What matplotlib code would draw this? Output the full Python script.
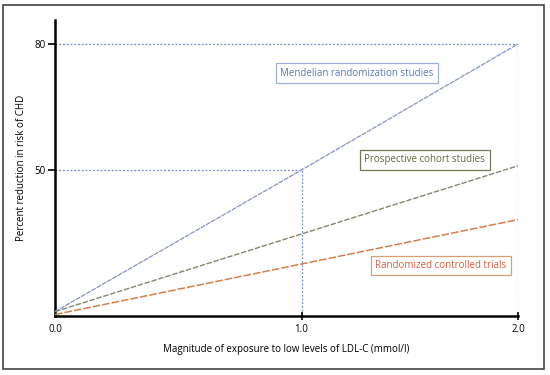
import matplotlib
matplotlib.use("Agg")
import matplotlib.pyplot as plt
import numpy as np
from matplotlib.patches import Rectangle

plt.rcParams["font.family"] = ["Open Sans", "DejaVu Sans"]

# exposure (mmol/l) and percent reduction in CHD risk (schematic figure)
exposure = [0.0, 1.0, 2.0]
mendelian = [1.5, 50, 80]
cohort_x = [0.0, 2.0]
cohort = [1.5, 51]
rct_x = [0.0, 2.0]
rct = [0.5, 33]

x_ticks = [0.0, 1.0, 2.0]
x_tick_labels = ["0.0", "1.0", "2.0"]
y_ticks = [50, 80]
y_tick_labels = ["50", "80"]

# the original figure is schematic: axes are not uniformly spaced
X_IN, X_OUT = [0.0, 1.0, 2.0], [0.0, 1.065, 2.0]
Y_IN, Y_OUT = [0.0, 50.0, 80.0], [0.0, 146.0, 272.0]


def piecewise(v, src, dst):
    v = np.asarray(v, dtype=float)
    out = np.interp(v, src, dst)
    hi = v > src[-1]
    slope = (dst[-1] - dst[-2]) / (src[-1] - src[-2])
    out = np.where(hi, dst[-1] + (v - src[-1]) * slope, out)
    lo = v < src[0]
    slope0 = (dst[1] - dst[0]) / (src[1] - src[0])
    out = np.where(lo, dst[0] + (v - src[0]) * slope0, out)
    return out


fig = plt.figure(figsize=(5.5, 3.75), dpi=100)
ax = fig.add_axes([55 / 550, 1 - 316 / 375, 463 / 550, 296 / 375])
ax.set_xscale("function", functions=(lambda v: piecewise(v, X_IN, X_OUT),
                                      lambda v: piecewise(v, X_OUT, X_IN)))
ax.set_yscale("function", functions=(lambda v: piecewise(v, Y_IN, Y_OUT),
                                      lambda v: piecewise(v, Y_OUT, Y_IN)))
ax.set_xlim(0, 2.0)
ax.set_ylim(0, 85.7)

guide = dict(color="#6f8fcc", lw=0.9, ls=(0, (1.5, 1.5)), zorder=1)
ax.plot([0, exposure[2], exposure[2]], [mendelian[2], mendelian[2], 0], **guide)
ax.plot([0, exposure[1], exposure[1]], [mendelian[1], mendelian[1], 0], **guide)

ax.plot(exposure, mendelian, color="#8592cc", lw=0.9, ls=(0, (4, 0.8)), zorder=3)
ax.plot(cohort_x, cohort, color="#7d8a6c", lw=1.0, ls=(0, (4, 1.2)), zorder=3)
ax.plot(rct_x, rct, color="#d4804c", lw=1.1, ls=(0, (5, 1.3)), zorder=3)

for s in ["top", "right"]:
    ax.spines[s].set_visible(False)
for s in ["left", "bottom"]:
    ax.spines[s].set_linewidth(1.8)
    ax.spines[s].set_color("black")

ax.set_xticks(x_ticks[1:])
ax.set_xticklabels(x_tick_labels[1:])
ax.set_yticks(y_ticks)
ax.set_yticklabels(y_tick_labels)
ax.tick_params(axis="x", direction="inout", length=6, width=1.2, labelsize=7, pad=3, colors="black")
ax.tick_params(axis="y", direction="out", length=5, width=1.2, labelsize=7, pad=2, colors="black")
ax.text(0, -0.028, x_tick_labels[0], transform=ax.get_xaxis_transform(),
        ha="center", va="top", fontsize=7)

ax.set_xlabel("Magnitude of exposure to low levels of LDL-C (mmol/l)", fontsize=7, labelpad=6)
ax.set_ylabel("Percent reduction in risk of CHD", fontsize=7, labelpad=5)

box_style = dict(boxstyle="square,pad=0.45", facecolor="white", lw=0.9)
ax.text(1.257, 73, "Mendelian randomization studies", fontsize=7, color="#5b78b8",
        ha="center", va="center", bbox=dict(edgecolor="#9db0dc", **box_style), zorder=4)
ax.text(1.57, 52.4, "Prospective cohort studies", fontsize=7, color="#5c6b3c",
        ha="center", va="center", bbox=dict(edgecolor="#6f7a55", **box_style), zorder=4)
ax.text(1.644, 17.3, "Randomized controlled trials", fontsize=7, color="#d0603e",
        ha="center", va="center", bbox=dict(edgecolor="#d4a070", **box_style), zorder=4)

fig.patches.append(Rectangle((3 / 550, 1 - 369 / 375), 541 / 550, 364 / 375,
                             transform=fig.transFigure, fill=False,
                             edgecolor="#444444", lw=1.2))

fig.savefig("out.png", dpi=100)
